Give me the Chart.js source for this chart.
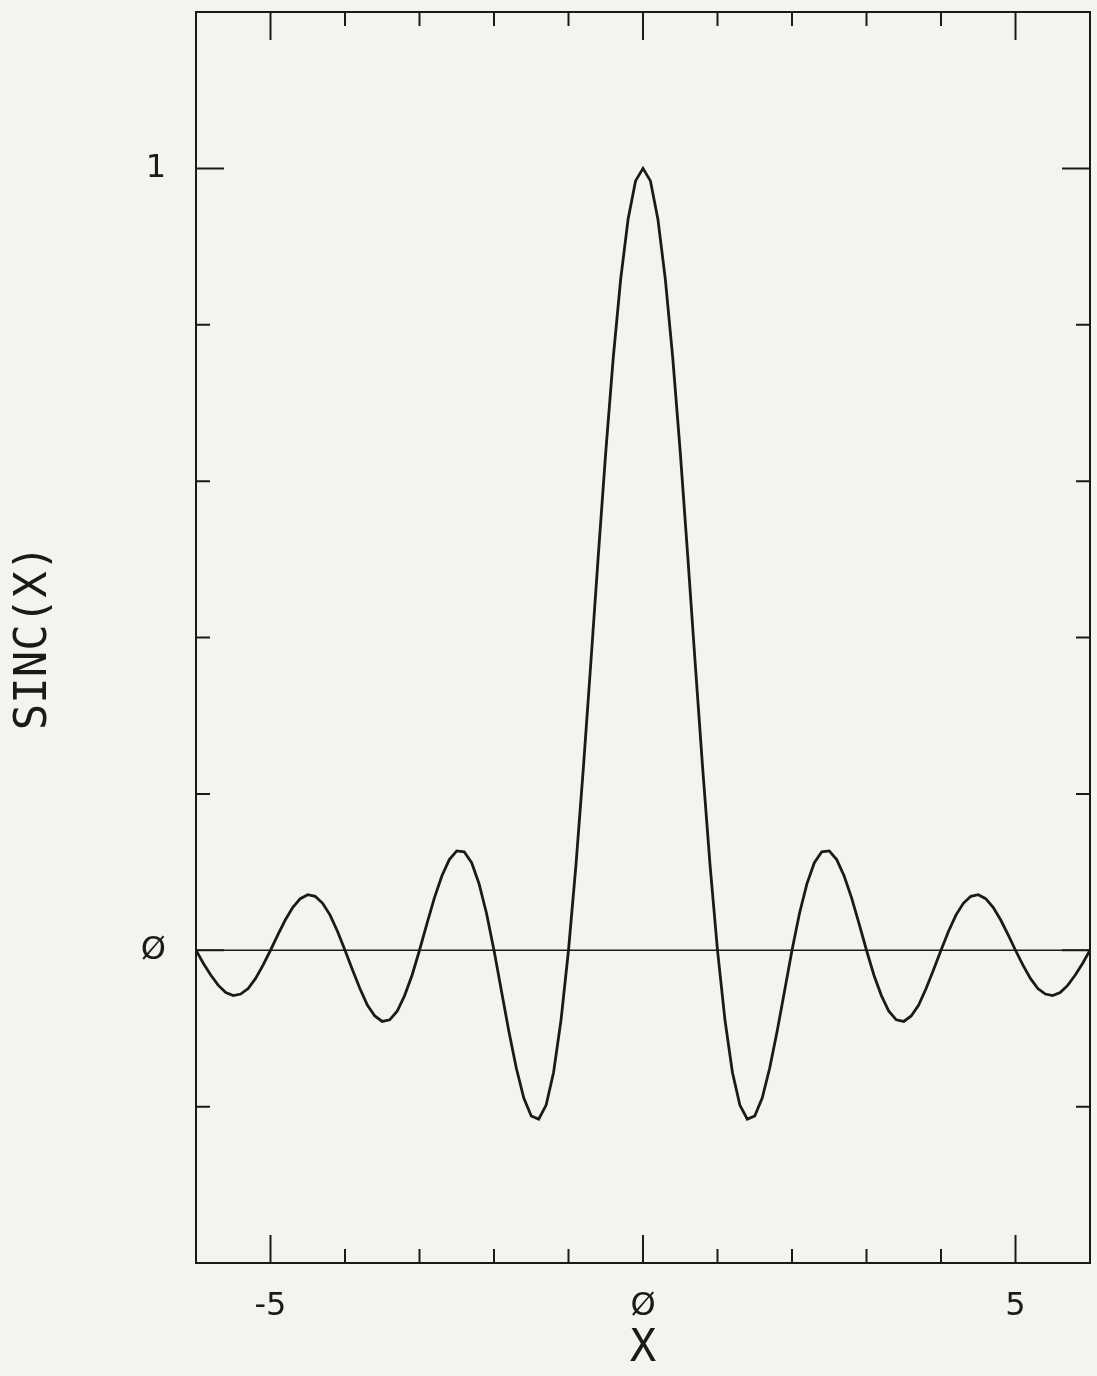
<!DOCTYPE html>
<html>
<head>
<meta charset="utf-8">
<script src="https://cdn.jsdelivr.net/npm/chart.js@4.4.1/dist/chart.umd.min.js"></script>
<style>
  html, body { margin: 0; padding: 0; background: #f4f4ee; }
  canvas { display: block; }
</style>
</head>
<body>
<canvas id="sincChart" width="1097" height="1376"></canvas>
<script>
// x positions of the plotted curve
const xValues = [
    -6.0, -5.9, -5.8, -5.7, -5.6, -5.5, -5.4, -5.3, -5.2, -5.1,
    -5.0, -4.9, -4.8, -4.7, -4.6, -4.5, -4.4, -4.3, -4.2, -4.1,
    -4.0, -3.9, -3.8, -3.7, -3.6, -3.5, -3.4, -3.3, -3.2, -3.1,
    -3.0, -2.9, -2.8, -2.7, -2.6, -2.5, -2.4, -2.3, -2.2, -2.1,
    -2.0, -1.9, -1.8, -1.7, -1.6, -1.5, -1.4, -1.3, -1.2, -1.1,
    -1.0, -0.9, -0.8, -0.7, -0.6, -0.5, -0.4, -0.3, -0.2, -0.1,
    0.0, 0.1, 0.2, 0.3, 0.4, 0.5, 0.6, 0.7, 0.8, 0.9,
    1.0, 1.1, 1.2, 1.3, 1.4, 1.5, 1.6, 1.7, 1.8, 1.9,
    2.0, 2.1, 2.2, 2.3, 2.4, 2.5, 2.6, 2.7, 2.8, 2.9,
    3.0, 3.1, 3.2, 3.3, 3.4, 3.5, 3.6, 3.7, 3.8, 3.9,
    4.0, 4.1, 4.2, 4.3, 4.4, 4.5, 4.6, 4.7, 4.8, 4.9,
    5.0, 5.1, 5.2, 5.3, 5.4, 5.5, 5.6, 5.7, 5.8, 5.9,
    6.0
];

// SINC(X)
const sincValues = [
    0, -0.017, -0.032, -0.045, -0.054, -0.058, -0.056, -0.049, -0.036, -0.019,
    0, 0.020, 0.039, 0.055, 0.066, 0.071, 0.069, 0.060, 0.045, 0.024,
    0, -0.025, -0.049, -0.070, -0.084, -0.091, -0.089, -0.078, -0.058, -0.032,
    0, 0.034, 0.067, 0.095, 0.116, 0.127, 0.126, 0.112, 0.085, 0.047,
    0, -0.052, -0.104, -0.151, -0.189, -0.212, -0.216, -0.198, -0.156, -0.089,
    0, 0.109, 0.234, 0.368, 0.505, 0.637, 0.757, 0.858, 0.935, 0.984,
    1, 0.984, 0.935, 0.858, 0.757, 0.637, 0.505, 0.368, 0.234, 0.109,
    0, -0.089, -0.156, -0.198, -0.216, -0.212, -0.189, -0.151, -0.104, -0.052,
    0, 0.047, 0.085, 0.112, 0.126, 0.127, 0.116, 0.095, 0.067, 0.034,
    0, -0.032, -0.058, -0.078, -0.089, -0.091, -0.084, -0.070, -0.049, -0.025,
    0, 0.024, 0.045, 0.060, 0.069, 0.071, 0.066, 0.055, 0.039, 0.020,
    0, -0.019, -0.036, -0.049, -0.056, -0.058, -0.054, -0.045, -0.032, -0.017,
    0
];

// the zero line drawn across the frame
const zeroX = [-6, 6];
const zeroY = [0, 0];

// ticks that carry a label (the rest are plain tick marks)
const xLabelled = [-5, 0, 5];
const yLabelled = [0, 1];

const ink = '#1a1a1a';
const tickFont = { family: 'DejaVu Sans', size: 32 };
const titleFont = { family: 'DejaVu Sans Mono', size: 44, lineHeight: 1 };

const isLabelled = (list, v) => list.some(t => Math.abs(t - v) < 1e-6);
const tickText = (list, v) => {
    if (!isLabelled(list, v)) return '';
    const r = Math.round(v);
    return r === 0 ? 'Ø' : String(r);
};

const framePlugin = {
    id: 'framePlugin',
    beforeDraw(chart) {
        const ctx = chart.ctx;
        ctx.save();
        ctx.fillStyle = '#f4f4ee';
        ctx.fillRect(0, 0, chart.width, chart.height);
        ctx.restore();
    },
    afterDatasetsDraw(chart) {
        const { ctx, chartArea: a, scales: { x, y } } = chart;
        ctx.save();
        ctx.strokeStyle = ink;
        ctx.lineWidth = 2;
        ctx.strokeRect(a.left, a.top, a.right - a.left, a.bottom - a.top);
        ctx.beginPath();
        x.ticks.forEach(t => {
            const px = x.getPixelForValue(t.value);
            const len = isLabelled(xLabelled, t.value) ? 28 : 14;
            ctx.moveTo(px, a.bottom); ctx.lineTo(px, a.bottom - len);
            ctx.moveTo(px, a.top); ctx.lineTo(px, a.top + len);
        });
        y.ticks.forEach(t => {
            const py = y.getPixelForValue(t.value);
            const len = isLabelled(yLabelled, t.value) ? 28 : 14;
            ctx.moveTo(a.left, py); ctx.lineTo(a.left + len, py);
            ctx.moveTo(a.right, py); ctx.lineTo(a.right - len, py);
        });
        ctx.stroke();
        ctx.restore();
    }
};

const ctx = document.getElementById('sincChart').getContext('2d');

const chart = new Chart(ctx, {
    type: 'line',
    data: {
        datasets: [{
            label: 'SINC(X)',
            data: xValues.map((v, i) => ({ x: v, y: sincValues[i] })),
            borderColor: ink,
            borderWidth: 2.8,
            pointRadius: 0,
            tension: 0,
            fill: false
        }, {
            label: 'zero',
            data: zeroX.map((v, i) => ({ x: v, y: zeroY[i] })),
            borderColor: ink,
            borderWidth: 1.5,
            pointRadius: 0,
            fill: false
        }]
    },
    options: {
        responsive: false,
        animation: false,
        devicePixelRatio: 1,
        layout: { padding: { top: 12, right: 7, left: 0, bottom: 0 } },
        plugins: {
            legend: { display: false },
            tooltip: { enabled: false }
        },
        scales: {
            x: {
                type: 'linear',
                min: -6,
                max: 6,
                grid: { display: false, drawTicks: false },
                border: { display: false },
                ticks: {
                    stepSize: 1,
                    autoSkip: false,
                    maxRotation: 0,
                    padding: 24,
                    color: ink,
                    font: tickFont,
                    callback: v => tickText(xLabelled, v)
                },
                title: {
                    display: true,
                    text: 'X',
                    color: ink,
                    font: titleFont,
                    padding: { top: 0, bottom: 4 }
                },
                afterFit: s => {
                    s.height = 113;
                    s.paddingLeft = 0;
                    s.paddingRight = 0;
                }
            },
            y: {
                type: 'linear',
                min: -0.4,
                max: 1.2,
                grid: { display: false, drawTicks: false },
                border: { display: false },
                ticks: {
                    stepSize: 0.2,
                    autoSkip: false,
                    padding: 30,
                    color: ink,
                    font: tickFont,
                    callback: v => tickText(yLabelled, v)
                },
                title: {
                    display: true,
                    text: 'SINC(X)',
                    color: ink,
                    font: titleFont,
                    padding: { top: 13, bottom: 0 }
                },
                afterFit: s => {
                    s.width = 196;
                    s.paddingTop = 0;
                    s.paddingBottom = 0;
                }
            }
        }
    },
    plugins: [framePlugin]
});
</script>
</body>
</html>
